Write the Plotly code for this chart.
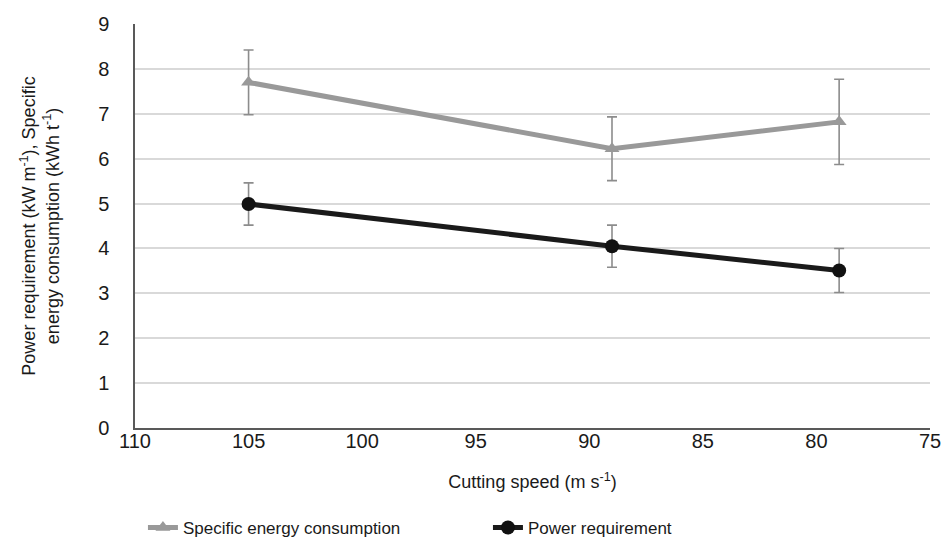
import plotly.graph_objects as go

cutting_speed = [105, 89, 79]
sec_values = [7.70, 6.22, 6.82]
sec_errors = [0.72, 0.71, 0.95]
power_values = [4.99, 4.05, 3.51]
power_errors = [0.47, 0.47, 0.49]

x_ticks = [110, 105, 100, 95, 90, 85, 80, 75]
y_ticks = [0, 1, 2, 3, 4, 5, 6, 7, 8, 9]

font_family = "Liberation Sans, Arial, sans-serif"

fig = go.Figure()
fig.add_trace(go.Scatter(
    x=cutting_speed, y=sec_values, name="Specific energy consumption",
    mode="lines+markers",
    line=dict(color="#999999", width=5),
    marker=dict(symbol="triangle-up", size=13, color="#999999"),
    error_y=dict(type="data", array=sec_errors, visible=True,
                 color="#8c8c8c", thickness=1.6, width=5),
))
fig.add_trace(go.Scatter(
    x=cutting_speed, y=power_values, name="Power requirement",
    mode="lines+markers",
    line=dict(color="#1a1a1a", width=5),
    marker=dict(symbol="circle", size=14, color="#111111"),
    error_y=dict(type="data", array=power_errors, visible=True,
                 color="#8c8c8c", thickness=1.6, width=5),
))

fig.update_layout(
    width=942, height=551,
    margin=dict(l=127, r=20, t=16, b=131),
    plot_bgcolor="white", paper_bgcolor="white",
    font=dict(family=font_family, size=18, color="#1a1a1a"),
    showlegend=True,
    legend=dict(orientation="h", x=0.01, xanchor="left", y=-0.292, yanchor="bottom",
                font=dict(size=17), entrywidth=300, entrywidthmode="pixels",
                tracegroupgap=0, borderwidth=0),
    xaxis=dict(
        range=[110, 75], tickvals=x_ticks, ticktext=[str(v) for v in x_ticks],
        showgrid=False, zeroline=False, automargin=False,
        showline=True, linecolor="#595959", linewidth=1.5,
        ticks="", ticklen=0, ticklabelstandoff=-6,
        title=dict(text="Cutting speed (m s<sup>-1</sup>)", standoff=25,
                   font=dict(size=18)),
        tickfont=dict(size=20),
    ),
    yaxis=dict(
        range=[0, 9], tickvals=y_ticks,
        showgrid=True, gridcolor="#d9d9d9", gridwidth=1.5,
        zeroline=False, automargin=False,
        showline=True, linecolor="#595959", linewidth=1.5,
        ticks="", ticklen=0, ticklabelstandoff=20,
        title=dict(text="Power requirement (kW m<sup>-1</sup>), Specific<br>energy consumption (kWh t<sup>-1</sup>)",
                   standoff=34, font=dict(size=18)),
        tickfont=dict(size=20),
    ),
)

fig.write_html("out.html")
